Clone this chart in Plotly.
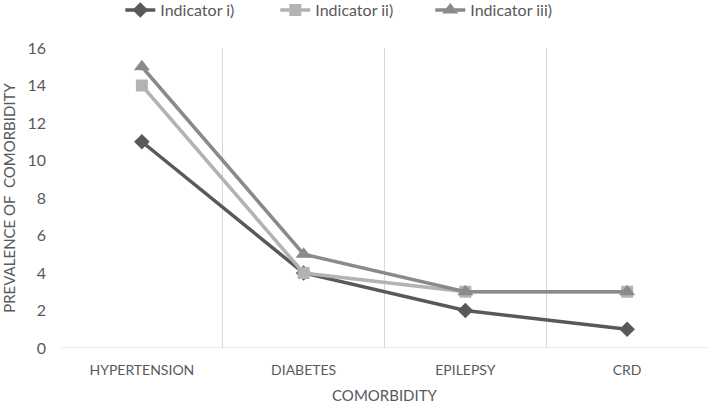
import plotly.graph_objects as go

categories = ["HYPERTENSION", "DIABETES", "EPILEPSY", "CRD"]
indicator_i = [11, 4, 2, 1]
indicator_ii = [14, 4, 3, 3]
indicator_iii = [15, 5, 3, 3]
series_names = ["Indicator i)", "Indicator ii)", "Indicator iii)"]
y_ticks = [0, 2, 4, 6, 8, 10, 12, 14, 16]

colors = ["#595959", "#b3b3b3", "#8a8a8a"]
symbols = ["diamond", "square", "triangle-up"]
sizes = [12, 12, 14]

fig = go.Figure()
for name, vals, c, s, sz in zip(series_names, [indicator_i, indicator_ii, indicator_iii], colors, symbols, sizes):
    fig.add_trace(go.Scatter(
        x=categories, y=vals, name=name, mode="lines+markers",
        line=dict(color=c, width=3.5),
        marker=dict(symbol=s, size=sz, color=c),
    ))

fig.update_layout(
    width=709, height=404,
    margin=dict(l=61, r=1, t=48, b=56),
    paper_bgcolor="white", plot_bgcolor="white",
    font=dict(family="Lato, Open Sans, sans-serif", color="#595959", size=14),
    showlegend=True,
    legend=dict(orientation="h", x=0.451, xanchor="center", y=0.975, yanchor="middle",
                yref="container", font=dict(size=16, color="#595959"),
                entrywidth=110, tracegroupgap=0),
    xaxis=dict(
        type="category", range=[-0.5, 3.5], tickson="boundaries",
        showgrid=True, gridcolor="#d9d9d9", gridwidth=1,
        ticks="", showline=False, zeroline=False, automargin=False,
        tickfont=dict(size=14, color="#595959"),
        ticklabelstandoff=12,
        title=dict(text="COMORBIDITY", font=dict(size=15, color="#595959"), standoff=16),
    ),
    yaxis=dict(
        range=[0, 16], tickvals=y_ticks, showgrid=False,
        zeroline=False, showline=False, ticks="", automargin=False,
        tickfont=dict(size=16, color="#595959"),
        ticklabelstandoff=14,
        title=dict(text="PREVALENCE OF  COMORBIDITY", font=dict(size=15, color="#595959"), standoff=18),
    ),
)
fig.add_shape(type="line", xref="paper", yref="y", x0=0, x1=1, y0=0, y1=0,
              line=dict(color="#d9d9d9", width=1))

fig.write_html("out.html", config={"displayModeBar": False},
               post_script="document.body.style.margin='0';document.body.style.overflow='hidden';")
